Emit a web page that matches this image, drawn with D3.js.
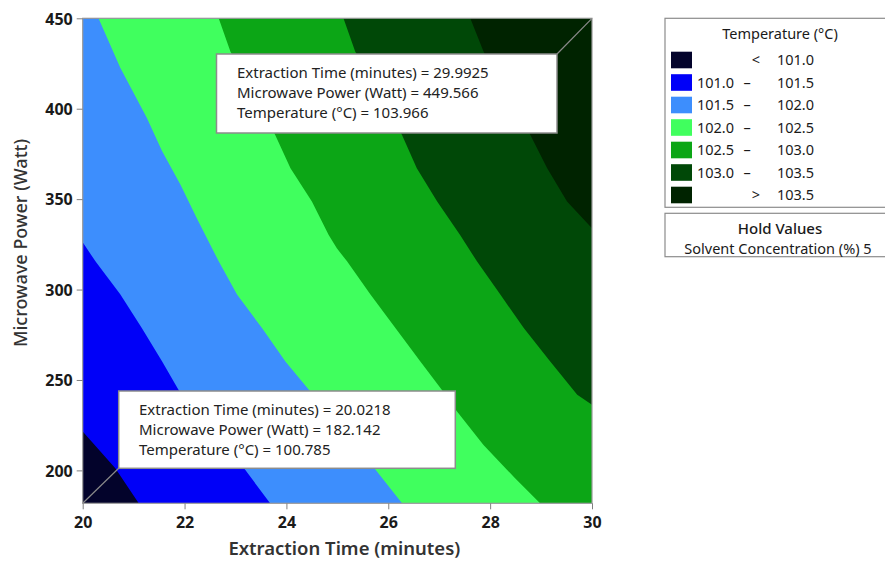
<!DOCTYPE html>
<html lang="en">
<head>
<meta charset="UTF-8">
<title>Temperature contour</title>
<style>
  body { margin: 0; background: #fff; }
  svg text { font-family: "Noto Sans", "Open Sans", sans-serif; fill: #1a1a1a; }
  .tick text { font-weight: 700; font-size: 16px; }
  .tick line { stroke: #808080; }
  .axis-title { font-weight: 600; fill: #333; }
  .note text { font-size: 15px; fill: #222; }
  .legend text { font-size: 14.5px; }
</style>
</head>
<body>
<div id="chart"></div>
<script src="https://cdn.jsdelivr.net/npm/d3@7"></script>
<script>
// axis ranges and ticks
const timeDomain = [20, 30];
const powerDomain = [181.8, 450];
const xTicks = [20, 22, 24, 26, 28, 30];
const yTicks = [200, 250, 300, 350, 400, 450];

// contour boundaries: [time, power]
const b101_0 = [[20, 221.5], [20.64, 201.2], [21.10, 181.8]];
const b101_5 = [[20, 326.1], [20.25, 315.6], [20.74, 297.2], [21.16, 278.7], [21.56, 260.2], [21.88, 244.6], [23.19, 200.3], [23.68, 181.8]];
const b102_0 = [[20.31, 450], [20.74, 422.5], [21.26, 394.8], [21.56, 376.5], [21.92, 357.9], [22.24, 339.4], [22.67, 315.6], [23.03, 297.2], [23.52, 278.7], [23.98, 260.2], [24.44, 244.6], [25.75, 200.3], [26.27, 181.8]];
const b102_5 = [[22.67, 450], [22.90, 431.7], [23.78, 385.5], [24.08, 367.1], [24.50, 348.7], [24.83, 330.2], [24.99, 322.8], [25.19, 315.6], [25.65, 297.2], [26.14, 278.7], [26.63, 260.2], [27.05, 244.6], [27.35, 232.6], [27.87, 214.1], [28.49, 195.6], [28.98, 181.8]];
const b103_0 = [[25.12, 450], [25.35, 431.7], [26.27, 385.5], [26.56, 367.1], [26.96, 348.7], [27.41, 330.2], [27.74, 315.6], [28.20, 297.2], [28.66, 278.7], [29.18, 260.2], [29.71, 241.8], [30, 236.3]];
const b103_5 = [[27.61, 450], [27.87, 431.7], [28.79, 385.5], [29.12, 367.1], [29.51, 348.7], [30, 333.9]];
const boundaries = [b101_0, b101_5, b102_0, b102_5, b103_0, b103_5];

// legend bands, low to high
const bandLow = ["", "101.0", "101.5", "102.0", "102.5", "103.0", ""];
const bandHigh = ["101.0", "101.5", "102.0", "102.5", "103.0", "103.5", "103.5"];
const bandSign = ["<", "–", "–", "–", "–", "–", ">"];
const bandColors = ["#03032b", "#0000f8", "#3d8efd", "#40ff5e", "#0ca616", "#004807", "#002300"];

// the two crosshair readouts
const noteTime = [29.9925, 20.0218];
const notePower = [449.566, 182.142];
const noteTemp = [103.966, 100.785];
const holdLabel = "Solvent Concentration (%) 5";

const width = 885, height = 563;
const svg = d3.select("#chart").append("svg")
  .attr("width", width)
  .attr("height", height);

const x = d3.scaleLinear().domain(timeDomain).range([82.7, 592]);
const y = d3.scaleLinear().domain(powerDomain).range([503.3, 18.3]);

svg.append("clipPath").attr("id", "plot-clip")
  .append("rect")
  .attr("x", x(timeDomain[0])).attr("y", y(powerDomain[1]))
  .attr("width", x(timeDomain[1]) - x(timeDomain[0]))
  .attr("height", y(powerDomain[0]) - y(powerDomain[1]));

const plot = svg.append("g").attr("clip-path", "url(#plot-clip)");

// lowest band fills everything, each boundary paints its high side on top
plot.append("rect")
  .attr("x", x(timeDomain[0])).attr("y", y(powerDomain[1]))
  .attr("width", x(timeDomain[1]) - x(timeDomain[0]))
  .attr("height", y(powerDomain[0]) - y(powerDomain[1]))
  .attr("fill", bandColors[0]);

function highSide(b) {
  const pts = b.slice();
  const start = pts[0], end = pts[pts.length - 1];
  if (end[1] <= powerDomain[0] + 0.01) pts.push([timeDomain[1], powerDomain[0]]);
  pts.push([timeDomain[1], powerDomain[1]]);
  if (start[0] <= timeDomain[0] + 0.01) pts.push([timeDomain[0], powerDomain[1]]);
  return pts;
}

const area = d3.line().x(d => x(d[0])).y(d => y(d[1]));

plot.selectAll(".band")
  .data(boundaries)
  .enter().append("path")
  .attr("class", "band")
  .attr("d", d => area(highSide(d)) + "Z")
  .attr("fill", (d, i) => bandColors[i + 1]);

// frame
svg.append("rect")
  .attr("x", x(timeDomain[0])).attr("y", y(powerDomain[1]))
  .attr("width", x(timeDomain[1]) - x(timeDomain[0]))
  .attr("height", y(powerDomain[0]) - y(powerDomain[1]))
  .attr("fill", "none")
  .attr("stroke", "#9a9a9a")
  .attr("stroke-width", 1.2);

// axes
const xAxis = svg.append("g")
  .attr("transform", `translate(0,${y(powerDomain[0])})`)
  .call(d3.axisBottom(x).tickValues(xTicks).tickSize(6).tickPadding(7).tickFormat(d3.format("d")));
const yAxis = svg.append("g")
  .attr("transform", `translate(${x(timeDomain[0])},0)`)
  .call(d3.axisLeft(y).tickValues(yTicks).tickSize(6).tickPadding(4).tickFormat(d3.format("d")));
xAxis.select(".domain").remove();
yAxis.select(".domain").remove();
xAxis.selectAll("text").attr("fill", "#141414");
yAxis.selectAll("text").attr("fill", "#141414").attr("dy", "0.36em");

svg.append("text")
  .attr("class", "axis-title")
  .attr("x", (x(timeDomain[0]) + x(timeDomain[1])) / 2 + 7)
  .attr("y", 555)
  .attr("text-anchor", "middle")
  .style("font-size", "18.5px")
  .text("Extraction Time (minutes)");

svg.append("text")
  .attr("class", "axis-title")
  .attr("transform", "translate(27,243) rotate(-90)")
  .attr("text-anchor", "middle")
  .style("font-size", "18px")
  .style("font-weight", 500)
  .text("Microwave Power (Watt)");

// readout boxes with leader lines to the plot corners
const notes = [
  { x: 216.5, y: 54, w: 340.5, h: 79, tx: 237, corner: [timeDomain[1], powerDomain[1]], from: [557, 54] },
  { x: 118.7, y: 391, w: 336.6, h: 77.3, tx: 139, corner: [timeDomain[0], powerDomain[0]], from: [118.7, 468.3] }
];

notes.forEach((n, i) => {
  const g = svg.append("g").attr("class", "note");
  g.append("line")
    .attr("x1", n.from[0]).attr("y1", n.from[1])
    .attr("x2", x(n.corner[0])).attr("y2", y(n.corner[1]))
    .attr("stroke", "#8a8a8a").attr("stroke-width", 1.2);
  g.append("rect")
    .attr("x", n.x).attr("y", n.y).attr("width", n.w).attr("height", n.h)
    .attr("fill", "#fff").attr("stroke", "#8c8c8c").attr("stroke-width", 1.5);
  const lines = [
    "Extraction Time (minutes) = " + noteTime[i],
    "Microwave Power (Watt) = " + notePower[i],
    "Temperature (°C) = " + noteTemp[i]
  ];
  g.selectAll(".ln").data(lines).enter().append("text")
    .attr("x", n.tx)
    .attr("y", (d, k) => n.y + 23.5 + k * 20)
    .text(d => d);
});

// legend
const lg = svg.append("g").attr("class", "legend");
lg.append("rect")
  .attr("x", 665).attr("y", 18.3).attr("width", 222).attr("height", 189)
  .attr("fill", "#fff").attr("stroke", "#8c8c8c").attr("stroke-width", 1.2);
lg.append("text")
  .attr("x", 780).attr("y", 39)
  .attr("text-anchor", "middle")
  .style("font-size", "14.5px")
  .text("Temperature (°C)");

const rows = lg.selectAll(".row")
  .data(bandColors)
  .enter().append("g")
  .attr("class", "row")
  .attr("transform", (d, i) => `translate(0,${60 + i * 22.5})`);
rows.append("rect")
  .attr("x", 671).attr("y", -8.3).attr("width", 21).attr("height", 16.6)
  .attr("fill", d => d);
rows.append("text")
  .attr("x", 734).attr("dy", "0.36em")
  .attr("text-anchor", "end")
  .text((d, i) => bandLow[i]);
rows.append("text")
  .attr("x", (d, i) => bandSign[i] === "–" ? 747 : 756).attr("dy", "0.36em")
  .attr("text-anchor", "middle")
  .text((d, i) => bandSign[i]);
rows.append("text")
  .attr("x", 814).attr("dy", "0.36em")
  .attr("text-anchor", "end")
  .text((d, i) => bandHigh[i]);

lg.append("rect")
  .attr("x", 665).attr("y", 213.3).attr("width", 222).attr("height", 43.4)
  .attr("fill", "#fff").attr("stroke", "#8c8c8c").attr("stroke-width", 1.2);
lg.append("text")
  .attr("x", 780).attr("y", 233.5)
  .attr("text-anchor", "middle")
  .style("font-size", "15px").style("font-weight", 500)
  .text("Hold Values");
lg.append("text")
  .attr("x", 778).attr("y", 253.5)
  .attr("text-anchor", "middle")
  .style("font-size", "14.5px")
  .text(holdLabel);
</script>
</body>
</html>
